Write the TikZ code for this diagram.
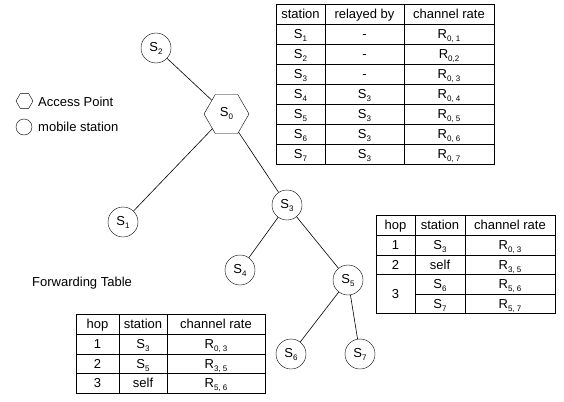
\documentclass[tikz,border=0pt]{standalone}
\usepackage{fontspec}
\setmainfont{Liberation Sans}
\usepackage{tikz}
\usetikzlibrary{shapes.geometric}

\newcommand{\idx}[1]{\raisebox{-3pt}{\fontsize{8}{8}\selectfont #1}}

\tikzset{
  station/.style={circle,draw,minimum size=30pt,inner sep=0pt},
  apoint/.style={regular polygon,regular polygon sides=6,draw,minimum size=45pt,inner sep=0pt},
  cell/.style={inner sep=0pt,text height=9.5pt,text depth=0pt},
  link/.style={line width=0.6pt},
  tabline/.style={line width=0.6pt}
}

\begin{document}
\begin{tikzpicture}[x=1pt,y=-1pt,font=\fontsize{13}{15}\selectfont]
        \useasboundingbox (0,0) rectangle (564,401);

        %%%% Legend =====================================
        \node[apoint,minimum size=17pt] (lgap) at (24.5,101) {};
        \node[anchor=west,inner sep=0pt] (lgaptext) at (38,101.5) {Access Point};
        \node[station,minimum size=16pt] (lgms) at (24,127) {};
        \node[anchor=west,inner sep=0pt] (lgmstext) at (38,127) {mobile station};
        \node[anchor=west,inner sep=0pt] (fwdtitle) at (32,283) {Forwarding Table};

        %%%% Tree =======================================
        % Access point
        \node[apoint] (s0) at (226.5,114) {S\idx{0}};

        % Mobile stations
        \node[station] (s1) at (123,222) {S\idx{1}};
        \node[station] (s2) at (156,48) {S\idx{2}};
        \node[station] (s3) at (287,205) {S\idx{3}};
        \node[station] (s4) at (240,270) {S\idx{4}};
        \node[station] (s5) at (348,280) {S\idx{5}};
        \node[station] (s6) at (291,354) {S\idx{6}};
        \node[station] (s7) at (360,354) {S\idx{7}};

        % Links
        \draw[link] (s2) -- (s0);
        \draw[link] (s0) -- (s1);
        \draw[link] (s0) -- (s3);
        \draw[link] (s3) -- (s4);
        \draw[link] (s3) -- (s5);
        \draw[link] (s5) -- (s6);
        \draw[link] (s5) -- (s7);

        %%%% Relay table ================================
        \draw[tabline] (276,4) rectangle (494,164);
        \foreach \y in {24,44,...,144} \draw[tabline] (276,\y) -- (494,\y);
        \foreach \x in {325,404} \draw[tabline] (\x,4) -- (\x,164);
        \node[cell] (rh1) at (300.5,14) {station};
        \node[cell] (rh2) at (364.5,14) {relayed by};
        \node[cell] (rh3) at (449,14) {channel rate};
        \foreach \s/\r/\c [count=\i] in {1/-/{0, 1},2/-/{0,2},3/-/{0, 3},4/S\idx{3}/{0, 4},5/S\idx{3}/{0, 5},6/S\idx{3}/{0, 6},7/S\idx{3}/{0, 7}}{
            \node[cell] (rs\i) at (300.5,{14+20*\i}) {S\idx{\s}};
            \node[cell] (rr\i) at (364.5,{14+20*\i}) {\r};
            \node[cell] (rc\i) at (449,{14+20*\i}) {R\idx{\c}};
        }

        %%%% Forwarding table of S5 =====================
        \draw[tabline] (376,215) rectangle (555,313);
        \foreach \y in {235,255,274} \draw[tabline] (376,\y) -- (555,\y);
        \draw[tabline] (415,294) -- (555,294);
        \foreach \x in {415,465} \draw[tabline] (\x,215) -- (\x,313);
        \node[cell] (mh1) at (395.5,225) {hop};
        \node[cell] (mh2) at (440,225) {station};
        \node[cell] (mh3) at (510,225) {channel rate};
        \node[cell] (mo1) at (395.5,245) {1};
        \node[cell] (ms1) at (440,245) {S\idx{3}};
        \node[cell] (mc1) at (510,245) {R\idx{0, 3}};
        \node[cell] (mo2) at (395.5,264.5) {2};
        \node[cell] (ms2) at (440,264.5) {self};
        \node[cell] (mc2) at (510,264.5) {R\idx{3, 5}};
        \node[cell] (mo3) at (395.5,294) {3};
        \node[cell] (ms3) at (440,284) {S\idx{6}};
        \node[cell] (mc3) at (510,284) {R\idx{5, 6}};
        \node[cell] (ms4) at (440,303.5) {S\idx{7}};
        \node[cell] (mc4) at (510,303.5) {R\idx{5, 7}};

        %%%% Forwarding table of S6 =====================
        \draw[tabline] (76,314) rectangle (265,393);
        \foreach \y in {334,354,373} \draw[tabline] (76,\y) -- (265,\y);
        \foreach \x in {119,167} \draw[tabline] (\x,314) -- (\x,393);
        \node[cell] (bh1) at (97.5,324) {hop};
        \node[cell] (bh2) at (143,324) {station};
        \node[cell] (bh3) at (216,324) {channel rate};
        \node[cell] (bo1) at (97.5,344) {1};
        \node[cell] (bs1) at (143,344) {S\idx{3}};
        \node[cell] (bc1) at (216,344) {R\idx{0, 3}};
        \node[cell] (bo2) at (97.5,363.5) {2};
        \node[cell] (bs2) at (143,363.5) {S\idx{5}};
        \node[cell] (bc2) at (216,363.5) {R\idx{3, 5}};
        \node[cell] (bo3) at (97.5,383) {3};
        \node[cell] (bs3) at (143,383) {self};
        \node[cell] (bc3) at (216,383) {R\idx{5, 6}};
\end{tikzpicture}
\end{document}
